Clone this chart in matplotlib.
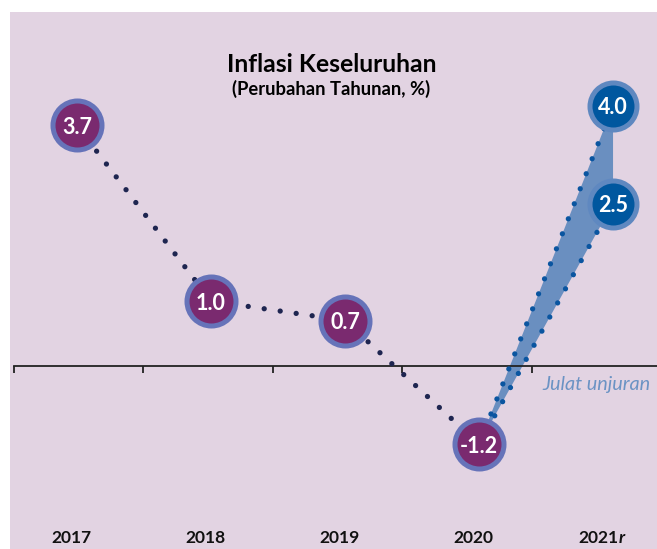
import matplotlib.pyplot as plt
import numpy as np

# data
years = ['2017', '2018', '2019', '2020', '2021']
year_suffix = ['', '', '', '', 'r']
actual = [3.7, 1.0, 0.7, -1.2]
actual_labels = ['3.7', '1.0', '0.7', '-1.2']
proj = [4.0, 2.5]
proj_labels = ['4.0', '2.5']

bg = '#e2d3e2'
purple = '#7a2a6f'
purple_ring = '#6673b9'
blue = '#00579f'
blue_ring = '#5f88c0'
band = '#6a8fc0'
dots_dark = '#1e2550'
dots_blue = '#0a55a0'

plt.rcParams['font.family'] = ['Lato', 'DejaVu Sans']

fig = plt.figure(figsize=(6.57, 5.49), dpi=100)
fig.patch.set_facecolor('white')
ax = fig.add_axes([10 / 657, 0, 647 / 657, 537 / 549])
ax.set_facecolor(bg)
ax.set_xlim(-0.5, 4.328)
ax.set_ylim(-2.815, 5.446)
ax.set_xticks([])
ax.set_yticks([])
for s in ax.spines.values():
    s.set_visible(False)

x_act = np.arange(len(actual))
x_proj = len(actual)

# projection range band
ax.fill([x_act[-1], x_proj, x_proj], [actual[-1], proj[0], proj[1]],
        color=band, lw=0, zorder=1)

# baseline with ticks
ticks = np.arange(len(years)) * 0.966 - 0.47
ax.plot([ticks[0], 4.5], [0, 0], color='#222222', lw=1.3, zorder=2)
ax.vlines(ticks, -0.11, 0, color='#222222', lw=1.3, zorder=2)

dot_style = dict(lw=3.8, linestyle=(0, (0.01, 3.05)), dash_capstyle='round', zorder=3)
ax.plot(x_act, actual, color=dots_dark, **dot_style)
for v in proj:
    ax.plot([x_act[-1], x_proj], [actual[-1], v], color=dots_blue, **dot_style)

# bubbles
ax.scatter(x_act, actual, s=(49 * 0.72) ** 2, c=purple, edgecolors=purple_ring,
           linewidths=5 * 0.72, zorder=5)
ax.scatter([x_proj] * len(proj), proj, s=(47 * 0.72) ** 2, c=blue, edgecolors=blue_ring,
           linewidths=5 * 0.72, zorder=5)
for x, v, t in zip(x_act, actual, actual_labels):
    ax.text(x, v, t, ha='center', va='center_baseline', color='white',
            fontsize=15.5, fontweight='bold', zorder=6)
for v, t in zip(proj, proj_labels):
    ax.text(x_proj, v, t, ha='center', va='center_baseline', color='white',
            fontsize=15.5, fontweight='bold', zorder=6)

# year labels
for i, (y, suf) in enumerate(zip(years, year_suffix)):
    if suf:
        ax.text(i + 0.04, -2.72, y, ha='right', va='baseline', fontsize=12.5,
                fontweight='bold', color='#111111')
        ax.text(i + 0.045, -2.72, suf, ha='left', va='baseline', fontsize=12.5,
                fontweight='bold', style='italic', color='#111111')
    else:
        ax.text(i - 0.04, -2.72, y, ha='center', va='baseline', fontsize=12.5,
                fontweight='bold', color='#111111')

ax.text(3.47, -0.37, 'Julat unjuran', ha='left', va='baseline', fontsize=14.3,
        style='italic', color='#6b93c4')

fig.text(332 / 657, 1 - 72 / 549, 'Inflasi Keseluruhan', ha='center', va='baseline',
         fontsize=17.8, fontweight='bold', color='black')
fig.text(331 / 657, 1 - 95 / 549, '(Perubahan Tahunan, %)', ha='center', va='baseline',
         fontsize=13.2, fontweight='bold', color='black')

fig.savefig('out.png', dpi=100, facecolor=fig.get_facecolor())
